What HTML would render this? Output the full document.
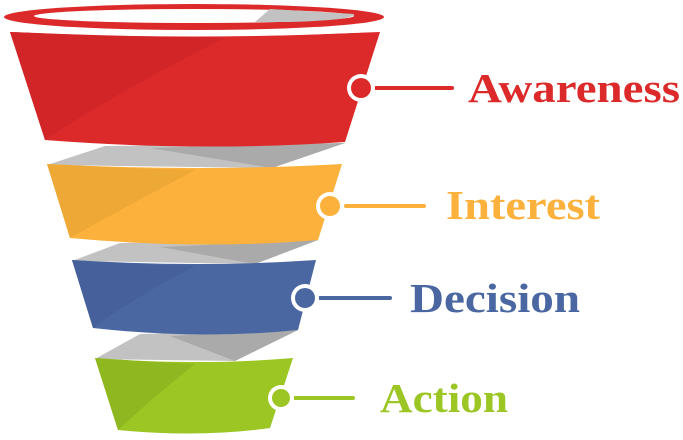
<!DOCTYPE html>
<html><head><meta charset="utf-8"><style>html,body{margin:0;padding:0;background:#fff;width:683px;height:440px;overflow:hidden}</style></head>
<body>
<svg width="683" height="440" viewBox="0 0 683 440" xmlns="http://www.w3.org/2000/svg">
<!-- grey twisted connectors -->
<path d="M47,165 L105,146 L345,143 L272,168 Z" fill="#c2c2c2"/>
<path d="M150,148 L345,143 L272,168 Z" fill="#aaaaaa"/>
<path d="M72,261 L120,243 L318,240 L255,264 Z" fill="#c2c2c2"/>
<path d="M160,247 L318,240 L255,264 Z" fill="#aaaaaa"/>
<path d="M95,359 L140,334 L298,330 L235,361 Z" fill="#c2c2c2"/>
<path d="M170,336 L298,330 L235,361 Z" fill="#aaaaaa"/>
<!-- red -->
<path d="M10,32 Q195,40 380,32 L345,142 Q200,152 45,140 Z" fill="#dc2a2a"/>
<path d="M10,32 Q120,36 225,38 Q120,90 45,140 Z" fill="#cf2528" opacity="0.9"/>
<path d="M8,30 Q195,40 382,30" stroke="#fff" stroke-width="3" fill="none"/>
<ellipse cx="194" cy="17" rx="190" ry="13" fill="#dc2a2a"/>
<ellipse cx="194" cy="16" rx="160" ry="7" fill="#fff"/>
<path d="M255,22 L270,9 L354,14 Q355,20 290,22 Z" fill="#c2c2c2"/>
<!-- yellow -->
<path d="M47,164 Q200,172 342,164 L318,240 Q200,250 70,238 Z" fill="#fbb13b"/>
<path d="M47,164 Q130,169 195,170 Q120,210 70,238 Z" fill="#eea836"/>
<!-- blue -->
<path d="M72,260 Q200,268 316,260 L298,330 Q200,340 93,328 Z" fill="#4a67a1"/>
<path d="M72,260 Q140,265 195,266 Q130,300 93,328 Z" fill="#45609a"/>
<!-- green -->
<path d="M95,358 Q200,366 293,358 L270,428 Q200,438 118,430 Z" fill="#9bc624"/>
<path d="M95,358 Q150,362 195,364 Q150,400 118,430 Z" fill="#8fb820"/>
<!-- dots & lines -->
<g stroke-linecap="round">
<line x1="376" y1="88" x2="452" y2="88" stroke="#dc2a2a" stroke-width="4"/>
<circle cx="361" cy="88" r="14" fill="#fff"/><circle cx="361" cy="88" r="10" fill="#dc2a2a"/>
<line x1="346" y1="206" x2="424" y2="206" stroke="#fbb13b" stroke-width="4"/>
<circle cx="330" cy="206" r="14" fill="#fff"/><circle cx="330" cy="206" r="10" fill="#fbb13b"/>
<line x1="320" y1="298" x2="390" y2="298" stroke="#4a67a1" stroke-width="4"/>
<circle cx="305" cy="298" r="14" fill="#fff"/><circle cx="305" cy="298" r="10" fill="#4a67a1"/>
<line x1="295" y1="398" x2="353" y2="398" stroke="#9bc624" stroke-width="4"/>
<circle cx="281" cy="398" r="13" fill="#fff"/><circle cx="281" cy="398" r="9" fill="#9bc624"/>
</g>
<g font-family="Liberation Serif, serif" font-weight="bold" font-size="41">
<text x="468" y="102" fill="#dc2a2a" textLength="212" lengthAdjust="spacingAndGlyphs">Awareness</text>
<text x="446" y="219" fill="#fbb13b" textLength="154" lengthAdjust="spacingAndGlyphs">Interest</text>
<text x="410" y="312" fill="#4a67a1" textLength="170" lengthAdjust="spacingAndGlyphs">Decision</text>
<text x="380" y="412" fill="#9bc624" textLength="128" lengthAdjust="spacingAndGlyphs">Action</text>
</g>
</svg>
</body></html>
